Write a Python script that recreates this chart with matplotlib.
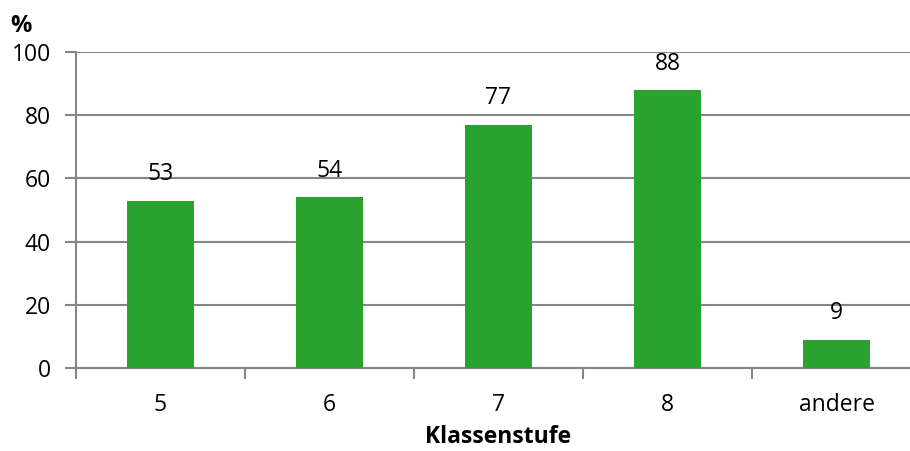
import numpy as np
import matplotlib
matplotlib.use('Agg')
import matplotlib.pyplot as plt

# Daten
kategorien = ['5', '6', '7', '8', 'andere']
werte = [53, 54, 77, 88, 9]
yticks = [0, 20, 40, 60, 80, 100]

plt.rcParams['font.family'] = ['Open Sans', 'DejaVu Sans']

fig = plt.figure(figsize=(9.1, 4.51), dpi=100)
ax = fig.add_axes([76/910, 1-368/451, 845/910, (368-52)/451])

x = np.arange(len(kategorien))
ax.bar(x, werte, width=0.4, color='#29a22f', zorder=3)
for xi, w in zip(x, werte):
    ax.text(xi, w + 4.5, str(w), ha='center', va='bottom', fontsize=16.5, color='black')

ax.set_xlim(-0.5, len(kategorien) - 0.5)
ax.set_ylim(0, 100)
ax.set_yticks(yticks)
ax.tick_params(axis='y', labelsize=16.5, length=8, width=1.5, color='#868686', pad=10)
ax.yaxis.grid(True, color='#868686', linewidth=1.5, zorder=0)

ax.set_xticks(x)
ax.set_xticklabels(kategorien, fontsize=16.5)
ax.tick_params(axis='x', length=0, pad=18)
ax.set_xticks(np.arange(len(kategorien) + 1) - 0.5, minor=True)
ax.tick_params(axis='x', which='minor', length=8, width=1.5, color='#868686')

for s in ['top', 'right']:
    ax.spines[s].set_visible(False)
for s in ['left', 'bottom']:
    ax.spines[s].set_color('#868686')
    ax.spines[s].set_linewidth(1.5)

fig.text(498/910, 1-437/451, 'Klassenstufe', fontsize=16.5, fontweight='bold', ha='center', va='center')
fig.text(21/910, 1-26/451, '%', fontsize=17, fontweight='bold', ha='center', va='center')

fig.savefig('out.png', dpi=100)
